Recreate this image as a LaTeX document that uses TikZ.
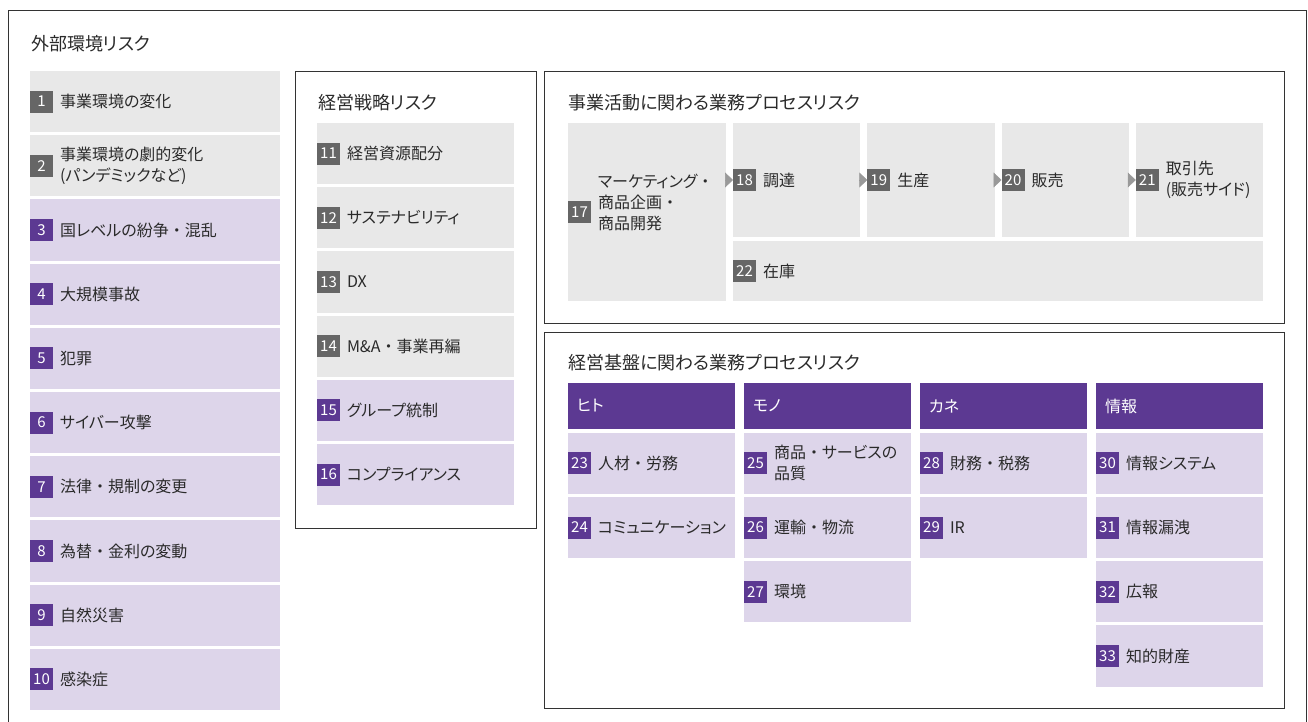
\documentclass[tikz,border=0pt]{standalone}
\usepackage{fontspec}
\setmainfont{Noto Sans CJK JP}[RawFeature=+palt]
\usepackage{xcolor}
\usetikzlibrary{arrows.meta,positioning}

\definecolor{boxgray}{HTML}{E8E8E8}
\definecolor{boxlav}{HTML}{DDD5EA}
\definecolor{badgegray}{HTML}{666666}
\definecolor{badgepurple}{HTML}{5C3992}
\definecolor{arrowgray}{HTML}{999999}
\definecolor{inkgray}{HTML}{2A2A2A}
\definecolor{linegray}{HTML}{333333}

\newcommand\headfont{\fontsize{18pt}{22pt}\selectfont}
\newcommand\itemfont{\fontsize{16pt}{21pt}\selectfont}
\newcommand\numfont{\fontsize{15pt}{17pt}\selectfont}
\newcommand\nk{{\addfontfeature{RawFeature=-palt}・}}

\begin{document}
\begin{tikzpicture}[x=1pt, y=-1pt,
  heading/.style={anchor=west, inner sep=0pt, font=\headfont, text=inkgray},
  panel/.style={draw=linegray, line width=1.1pt, anchor=north west, inner sep=0pt},
  risk/.style={rectangle, inner xsep=30pt, inner ysep=0pt, outer sep=0pt,
               minimum height=61.2pt, align=left, font=\itemfont, text=inkgray},
  grayrisk/.style={risk, fill=boxgray},
  lavrisk/.style={risk, fill=boxlav},
  wext/.style={text width=190pt},
  wstr/.style={text width=137pt},
  wproc/.style={text width=67.25pt},
  wbase/.style={text width=107pt},
  badge/.style={anchor=west, fill=#1, text=white, font=\numfont, minimum width=23pt,
                minimum height=22pt, inner sep=0pt, outer sep=0pt},
  colhead/.style={anchor=north west, fill=badgepurple, text=white, font=\itemfont,
                  text width=149pt, inner xsep=9pt, inner ysep=0pt, minimum height=46pt,
                  align=left, outer sep=0pt},
  flow/.style={-{Triangle[length=8pt, width=15pt]}, draw=arrowgray, fill=arrowgray, line width=0.5pt}
]
\useasboundingbox (0,0) rectangle (1308,722);
\fill[white] (0,0) rectangle (1308,722);
\draw[draw=linegray, line width=1pt] (8,722) -- (8,11) -- (1306,11) -- (1306,722);

% external environment
\node[heading] (hext) at (31,44) {外部環境リスク};
\node[grayrisk, wext, anchor=north west] (r1) at (30,71) {事業環境の変化};
\node[grayrisk, wext, below=3pt of r1] (r2) {事業環境の劇的変化\\(パンデミックなど)};
\node[lavrisk, wext, below=3pt of r2] (r3) {国レベルの紛争\nk 混乱};
\node[lavrisk, wext, below=3pt of r3] (r4) {大規模事故};
\node[lavrisk, wext, below=3pt of r4] (r5) {犯罪};
\node[lavrisk, wext, below=3pt of r5] (r6) {サイバー攻撃};
\node[lavrisk, wext, below=3pt of r6] (r7) {法律\nk 規制の変更};
\node[lavrisk, wext, below=3pt of r7] (r8) {為替\nk 金利の変動};
\node[lavrisk, wext, below=3pt of r8] (r9) {自然災害};
\node[lavrisk, wext, below=3pt of r9] (r10) {感染症};
\node[badge=badgegray] (n1) at (r1.west) {1};
\node[badge=badgegray] (n2) at (r2.west) {2};
\node[badge=badgepurple] (n3) at (r3.west) {3};
\node[badge=badgepurple] (n4) at (r4.west) {4};
\node[badge=badgepurple] (n5) at (r5.west) {5};
\node[badge=badgepurple] (n6) at (r6.west) {6};
\node[badge=badgepurple] (n7) at (r7.west) {7};
\node[badge=badgepurple] (n8) at (r8.west) {8};
\node[badge=badgepurple] (n9) at (r9.west) {9};
\node[badge=badgepurple] (n10) at (r10.west) {10};

% management strategy
\node[panel, minimum width=241pt, minimum height=457pt] (pstr) at (295,71) {};
\node[heading] (hstr) at (318,103) {経営戦略リスク};
\node[grayrisk, wstr, anchor=north west] (s11) at (317,123) {経営資源配分};
\node[grayrisk, wstr, below=3pt of s11] (s12) {サステナビリティ};
\node[grayrisk, wstr, below=3pt of s12] (s13) {DX};
\node[grayrisk, wstr, below=3pt of s13] (s14) {M\&A\nk 事業再編};
\node[lavrisk, wstr, below=3pt of s14] (s15) {グループ統制};
\node[lavrisk, wstr, below=3pt of s15] (s16) {コンプライアンス};
\node[badge=badgegray] (n11) at (s11.west) {11};
\node[badge=badgegray] (n12) at (s12.west) {12};
\node[badge=badgegray] (n13) at (s13.west) {13};
\node[badge=badgegray] (n14) at (s14.west) {14};
\node[badge=badgepurple] (n15) at (s15.west) {15};
\node[badge=badgepurple] (n16) at (s16.west) {16};

% business activities
\node[panel, minimum width=740pt, minimum height=252pt] (pproc) at (544,71) {};
\node[heading] (hproc) at (568,103) {事業活動に関わる業務プロセスリスク};
\node[grayrisk, text width=98pt, minimum height=178pt, anchor=north west] (p17) at (568,123)
  {マーケティング\nk\\商品企画\nk\\商品開発\\\mbox{}};
\node[grayrisk, wproc, minimum height=114pt, anchor=north west] (p18) at (733,123) {調達};
\node[grayrisk, wproc, minimum height=114pt, right=7pt of p18] (p19) {生産};
\node[grayrisk, wproc, minimum height=114pt, right=7pt of p19] (p20) {販売};
\node[grayrisk, wproc, minimum height=114pt, right=7pt of p20] (p21) {取引先\\(販売サイド)};
\node[grayrisk, text width=470pt, minimum height=60pt, below=4pt of p18.south west,
      anchor=north west] (p22) {在庫};
\node[badge=badgegray] (n17) at (p17.west) {17};
\node[badge=badgegray] (n18) at (p18.west) {18};
\node[badge=badgegray] (n19) at (p19.west) {19};
\node[badge=badgegray] (n20) at (p20.west) {20};
\node[badge=badgegray] (n21) at (p21.west) {21};
\node[badge=badgegray] (n22) at (p22.west) {22};
\draw[flow] (p17.east |- n18.west) -- (n18.west);
\draw[flow] (p18.east |- n19.west) -- (n19.west);
\draw[flow] (p19.east |- n20.west) -- (n20.west);
\draw[flow] (p20.east |- n21.west) -- (n21.west);

% management foundation
\node[panel, minimum width=740pt, minimum height=376pt] (pbase) at (544,332) {};
\node[heading] (hbase) at (568,363) {経営基盤に関わる業務プロセスリスク};
\node[colhead] (h1) at (568,383) {ヒト};
\node[colhead, right=9pt of h1] (h2) {モノ};
\node[colhead, right=9pt of h2] (h3) {カネ};
\node[colhead, right=9pt of h3] (h4) {情報};
\node[lavrisk, wbase, below=3.7pt of h1] (b23) {人材\nk 労務};
\node[lavrisk, wbase, below=3pt of b23] (b24) {コミュニケーション};
\node[lavrisk, wbase, below=3.7pt of h2] (b25) {商品\nk サービスの\\品質};
\node[lavrisk, wbase, below=3pt of b25] (b26) {運輸\nk 物流};
\node[lavrisk, wbase, below=3pt of b26] (b27) {環境};
\node[lavrisk, wbase, below=3.7pt of h3] (b28) {財務\nk 税務};
\node[lavrisk, wbase, below=3pt of b28] (b29) {IR};
\node[lavrisk, wbase, below=3.7pt of h4] (b30) {情報システム};
\node[lavrisk, wbase, below=3pt of b30] (b31) {情報漏洩};
\node[lavrisk, wbase, below=3pt of b31] (b32) {広報};
\node[lavrisk, wbase, below=3pt of b32] (b33) {知的財産};
\node[badge=badgepurple] (n23) at (b23.west) {23};
\node[badge=badgepurple] (n24) at (b24.west) {24};
\node[badge=badgepurple] (n25) at (b25.west) {25};
\node[badge=badgepurple] (n26) at (b26.west) {26};
\node[badge=badgepurple] (n27) at (b27.west) {27};
\node[badge=badgepurple] (n28) at (b28.west) {28};
\node[badge=badgepurple] (n29) at (b29.west) {29};
\node[badge=badgepurple] (n30) at (b30.west) {30};
\node[badge=badgepurple] (n31) at (b31.west) {31};
\node[badge=badgepurple] (n32) at (b32.west) {32};
\node[badge=badgepurple] (n33) at (b33.west) {33};
\end{tikzpicture}
\end{document}
